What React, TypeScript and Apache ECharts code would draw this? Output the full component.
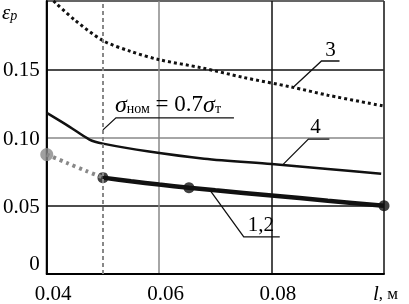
import React, { useEffect, useRef } from "react";
import * as echarts from "echarts";

// ---- data ----
const xTickValues = [0.04, 0.06, 0.08, 0.1];
const xTickLabels = ["0.04", "0.06", "0.08"];
const yTickValues = [0, 0.05, 0.1, 0.15, 0.2];
const curve3: [number, number][] = [
  [0.0412, 0.2], [0.045, 0.186], [0.05, 0.171], [0.055, 0.163], [0.06, 0.157],
  [0.0676, 0.151], [0.075, 0.144], [0.0835, 0.137], [0.09, 0.131], [0.1, 0.123],
];
const curve4: [number, number][] = [
  [0.04, 0.118], [0.044, 0.108], [0.0476, 0.0985], [0.05, 0.0955], [0.0582, 0.0897],
  [0.068, 0.0845], [0.08, 0.0805], [0.09, 0.077], [0.0995, 0.0735],
];
const curve12: [number, number][] = [
  [0.05, 0.0706], [0.055, 0.068], [0.06, 0.0655], [0.0653, 0.0632], [0.07, 0.0613],
  [0.08, 0.0575], [0.09, 0.0537], [0.1, 0.05],
];
const curve12Points: [number, number][] = [[0.05, 0.0706], [0.0653, 0.0632], [0.1, 0.05]];
const curve12Ext: [number, number][] = [[0.04, 0.0875], [0.0435, 0.0815], [0.047, 0.0755], [0.05, 0.0706]];
const curve12ExtPoints: [number, number][] = [[0.04, 0.0875]];
const refLineX = 0.05;
const labels = {
  c3: "3",
  c4: "4",
  c12: "1,2",
  yName: "ε",
  yNameSub: "p",
  xName: "l",
  xUnit: ", м",
};
// annotation anchors (data coords)
const anchor3: [number, number] = [0.0839, 0.137];
const anchor4: [number, number] = [0.0821, 0.0805];
const anchor12: [number, number] = [0.069, 0.0616];
const anchorSigma: [number, number] = [0.05, 0.1056];

const FONT = "'Liberation Serif', 'Times New Roman', serif";

export default function App() {
  const ref = useRef<HTMLDivElement>(null);
  useEffect(() => {
    if (!ref.current) return;
    const chart = echarts.init(ref.current, null, { renderer: "svg" });
    chart.setOption({
      animation: false,
      textStyle: { fontFamily: FONT },
      grid: { left: 44, right: 25, top: 1, bottom: 30, show: true, borderColor: "#333", borderWidth: 1, backgroundColor: "transparent" },
      xAxis: {
        type: "value",
        min: xTickValues[0],
        max: xTickValues[xTickValues.length - 1],
        interval: 0.02,
        axisLine: { show: true, onZero: false, lineStyle: { color: "#000", width: 2 } },
        axisTick: { show: false },
        splitLine: { show: true, lineStyle: { color: ["#000", "#888", "#111", "#333"], width: 1.5 } },
        axisLabel: { show: false },
      },
      yAxis: {
        type: "value",
        min: yTickValues[0],
        max: yTickValues[yTickValues.length - 1],
        interval: 0.05,
        axisLine: { show: true, onZero: false, lineStyle: { color: "#000", width: 2 } },
        axisTick: { show: false },
        splitLine: { show: true, lineStyle: { color: ["#000", "#111", "#888", "#111", "#555"], width: 1.5 } },
        axisLabel: {
          color: "#000",
          fontFamily: FONT,
          fontSize: 21,
          margin: 7,
          formatter: (v: number) => (v === 0 || v > 0.19 ? "" : v.toFixed(2)),
        },
      },
      series: [
        {
          type: "line",
          data: curve3,
          symbol: "none",
          smooth: 0.3,
          lineStyle: { color: "#111", width: 3, type: [3, 3] },
          markLine: {
            silent: true,
            symbol: "none",
            label: { show: false },
            lineStyle: { color: "#888", width: 2, type: [4, 3] },
            data: [{ xAxis: refLineX }],
          },
        },
        { type: "line", data: curve4, symbol: "none", smooth: 0.3, lineStyle: { color: "#111", width: 2.5 } },
        { type: "line", data: curve12Ext, symbol: "none", smooth: 0.3, lineStyle: { color: "#888", width: 4, type: [3, 4] } },
        { type: "line", data: curve12, symbol: "none", smooth: 0.3, lineStyle: { color: "#111", width: 4.5 } },
        { type: "scatter", data: curve12Points, symbol: "circle", symbolSize: 11, itemStyle: { color: "#111" }, clip: false },
        { type: "scatter", data: curve12ExtPoints, symbol: "circle", symbolSize: 13, itemStyle: { color: "#888" }, clip: false },
      ],
    });

    const px = (p: [number, number]) => chart.convertToPixel({ gridIndex: 0 }, p) as number[];
    const a3 = px(anchor3);
    const a4 = px(anchor4);
    const a12 = px(anchor12);
    const aS = px(anchorSigma);
    const origin = px([xTickValues[0], yTickValues[0]]);
    const xEnd = px([xTickValues[xTickValues.length - 1], yTickValues[0]]);
    const ln = { stroke: "#111", lineWidth: 1.3, fill: "none" };
    const leader = (a: number[], dx: number, dy: number, len: number) => ({
      type: "polyline",
      shape: { points: [[a[0], a[1]], [a[0] + dx, a[1] + dy], [a[0] + dx + len, a[1] + dy]] },
      style: ln,
      silent: true,
    });
    const txt = (x: number, y: number, text: string, extra: any = {}) => ({
      type: "text",
      x,
      y,
      style: { text, fill: "#000", fontFamily: FONT, fontSize: 21, align: "center", verticalAlign: "middle", ...extra },
      silent: true,
    });
    const xLabelEls = xTickLabels.map((t, i) => {
      const p = px([xTickValues[i], yTickValues[0]]);
      return txt(p[0] - 12, p[1] + 19, t, { align: "left", lineHeight: 17 });
    });
    chart.setOption({
      graphic: [
        ...xLabelEls,
        leader(a3, 28, -26, 18),
        txt(a3[0] + 37, a3[1] - 38, labels.c3),
        leader(a4, 25, -25, 21),
        txt(a4[0] + 32, a4[1] - 38, labels.c4),
        leader(a12, 34, 47, 36),
        txt(a12[0] + 51, a12[1] + 34, labels.c12),
        leader(aS, 13, -12, 118),
        {
          type: "text",
          x: aS[0] + 12,
          y: aS[1] - 38,
          silent: true,
          style: {
            text: "{s|σ}{sub|ном}{n| = 0.7}{s|σ}{sub|т}",
            fill: "#000",
            align: "left",
            verticalAlign: "top",
            rich: {
              s: { fontFamily: FONT, fontSize: 24, fontStyle: "italic", lineHeight: 24 },
              n: { fontFamily: FONT, fontSize: 23, lineHeight: 24 },
              sub: { fontFamily: FONT, fontSize: 14, lineHeight: 10, verticalAlign: "bottom" },
            },
          },
        },
        txt(origin[0] - 7, origin[1] - 11, "0", { align: "right" }),
        {
          type: "text",
          x: xEnd[0] - 11,
          y: xEnd[1] + 19,
          silent: true,
          style: {
            text: `{i|${labels.xName}}{u|${labels.xUnit}}`,
            fill: "#000",
            align: "left",
            verticalAlign: "middle",
            rich: {
              i: { fontFamily: FONT, fontSize: 21, fontStyle: "italic", lineHeight: 17 },
              u: { fontFamily: FONT, fontSize: 17, lineHeight: 17 },
            },
          },
        },
        {
          type: "text",
          x: 2,
          y: 2,
          silent: true,
          style: {
            text: `{e|${labels.yName}}{p|${labels.yNameSub}}`,
            fill: "#000",
            align: "left",
            verticalAlign: "top",
            rich: {
              e: { fontFamily: FONT, fontSize: 21, fontStyle: "italic", lineHeight: 20 },
              p: { fontFamily: FONT, fontSize: 14, fontStyle: "italic", lineHeight: 10, verticalAlign: "bottom" },
            },
          },
        },
      ],
    });
    return () => chart.dispose();
  }, []);
  return <div ref={ref} style={{ position: "fixed", left: 0, top: 0, width: 409, height: 304 }} />;
}
